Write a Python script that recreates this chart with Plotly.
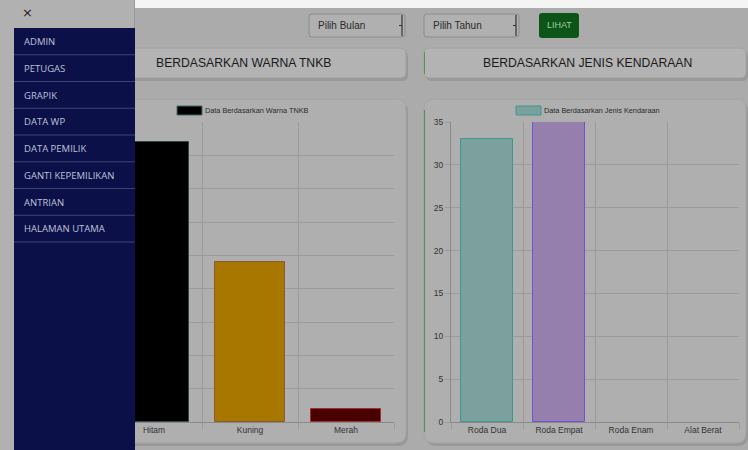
import plotly.graph_objects as go

W, H = 748, 450

# ---------------- data ----------------
warna_labels = ["Hitam", "Kuning", "Merah"]
warna_values = [42, 24, 2]
warna_fill = ["#000000", "#a87700", "#480000"]
warna_line = ["#2e4a48", "#8a5a30", "#9a3030"]

jenis_labels = ["Roda Dua", "Roda Empat", "Roda Enam", "Alat Berat"]
jenis_values = [33, 35, 0, 0]
jenis_fill = ["#7ca09d", "#9580ad", "rgba(0,0,0,0)", "rgba(0,0,0,0)"]
jenis_line = ["#3a9a90", "#7650cc", "rgba(0,0,0,0)", "rgba(0,0,0,0)"]

menu_items = ["ADMIN", "PETUGAS", "GRAPIK", "DATA WP", "DATA PEMILIK",
              "GANTI KEPEMILIKAN", "ANTRIAN", "HALAMAN UTAMA"]

# ---------------- helpers ----------------
def fx(x):
    return x / W

def fy(y):
    return 1 - y / H

def pt(x, y):
    return f"{fx(x):.5f},{fy(y):.5f}"

def rrect(x0, y0, x1, y1, r):
    return (f"M{pt(x0 + r, y0)} L{pt(x1 - r, y0)} Q{pt(x1, y0)} {pt(x1, y0 + r)} "
            f"L{pt(x1, y1 - r)} Q{pt(x1, y1)} {pt(x1 - r, y1)} L{pt(x0 + r, y1)} "
            f"Q{pt(x0, y1)} {pt(x0, y1 - r)} L{pt(x0, y0 + r)} Q{pt(x0, y0)} {pt(x0 + r, y0)} Z")

shapes = []
annotations = []

def rect(x0, y0, x1, y1, fill, line=None, lw=0, layer="below"):
    shapes.append(dict(type="rect", xref="paper", yref="paper",
                       x0=fx(x0), x1=fx(x1), y0=fy(y1), y1=fy(y0),
                       fillcolor=fill, line=dict(color=line or fill, width=lw), layer=layer))

def rounded(x0, y0, x1, y1, r, fill, line=None, lw=0, layer="below"):
    shapes.append(dict(type="path", xref="paper", yref="paper", path=rrect(x0, y0, x1, y1, r),
                       fillcolor=fill, line=dict(color=line or fill, width=lw), layer=layer))

def hline(x0, x1, y, color, w=1, layer="below"):
    shapes.append(dict(type="line", xref="paper", yref="paper", x0=fx(x0), x1=fx(x1),
                       y0=fy(y), y1=fy(y), line=dict(color=color, width=w), layer=layer))

def vline(x, y0, y1, color, w=1, layer="below"):
    shapes.append(dict(type="line", xref="paper", yref="paper", x0=fx(x), x1=fx(x),
                       y0=fy(y0), y1=fy(y1), line=dict(color=color, width=w), layer=layer))

def text(x, y, s, size, color, family="Liberation Sans, Arial, sans-serif", xanchor="left"):
    annotations.append(dict(xref="paper", yref="paper", x=fx(x), y=fy(y), text=s,
                            showarrow=False, xanchor=xanchor, yanchor="middle",
                            borderpad=0, borderwidth=0,
                            font=dict(size=size, color=color, family=family)))

PAGE = "#ababab"
CARD = "#afafaf"
SHADOW = "#989898"

# top white strip
rect(135, 0, W, 8, "#f4f4f4")

# select boxes
for (x0, x1, label) in [(309, 405, "Pilih Bulan"), (424, 519, "Pilih Tahun")]:
    rounded(x0, 14, x1, 37, 3, "#b0b0b0", "#8c8c8c", 1)
    text(x0 + 9, 25.5, label, 10, "#2a2a2a")
    vline(x1 - 3, 15, 36, "#333333", 1.2)
    hline(x1 - 6, x1 - 3, 25.5, "#333333", 1)

# LIHAT button
rounded(539, 13, 579, 38, 3, "#0c5418")
text(559, 25.5, "LIHAT", 9, "#9fd19f", xanchor="center")

# header cards
rounded(82, 51, 408, 81, 6, SHADOW)
rounded(80, 48, 406, 78, 6, "#b3b3b3", "#a2a2a2", 1)
text(243, 63, "BERDASARKAN WARNA TNKB", 12.2, "#1a1a1a", xanchor="center")

rounded(426, 51, 748, 81, 6, SHADOW)
rounded(424, 48, 746, 78, 6, "#b3b3b3", "#a2a2a2", 1)
vline(424.5, 52, 74, "#5d8f5d", 1)
text(587, 63, "BERDASARKAN JENIS KENDARAAN", 12.2, "#1a1a1a", xanchor="center")

# chart cards
rounded(82, 102, 408, 446, 10, SHADOW)
rounded(80, 99, 406, 443, 10, CARD, "#a4a4a4", 1)
rounded(426, 102, 748, 446, 10, SHADOW)
rounded(424, 99, 746, 443, 10, CARD, "#a4a4a4", 1)
vline(424.5, 110, 432, "#5d8f5d", 1.2)

# legends (chart.js style)
rect(177, 106, 202, 115, "#000000", "#3a6a66", 1)
text(205, 110.5, "Data Berdasarkan Warna TNKB", 7.3, "#2a2a2a")
rect(516, 106, 541, 115, "#7ca09d", "#3a9a90", 1)
text(544, 110.5, "Data Berdasarkan Jenis Kendaraan", 7.3, "#2a2a2a")

# sidebar (overlay)
rect(0, 0, 14, H, "#b1b1b1", layer="above")
rect(14, 0, 135, 28, "#b1b1b1", layer="above")
rect(14, 28, 135, H, "#0c1048", layer="above")
vline(134.5, 0, 28, "#9a9a9a", 1, layer="above")
text(28, 13, "×", 13, "#222222", family="DejaVu Sans", xanchor="center")
for i, item in enumerate(menu_items):
    ytop = 28 + i * 26.75
    text(24, ytop + 13.5, item, 9.5, "#bfc2d8", family="Open Sans, sans-serif")
    hline(14, 135, ytop + 26.75, "#3d4275", 1, layer="above")

# ---------------- figure ----------------
fig = go.Figure()
fig.add_trace(go.Bar(x=warna_labels, y=warna_values, width=0.72,
                     marker=dict(color=warna_fill, line=dict(color=warna_line, width=1)),
                     xaxis="x", yaxis="y", showlegend=False, hoverinfo="skip"))
fig.add_trace(go.Bar(x=jenis_labels, y=jenis_values, width=0.72,
                     marker=dict(color=jenis_fill, line=dict(color=jenis_line, width=1)),
                     xaxis="x2", yaxis="y2", showlegend=False, hoverinfo="skip"))

GRID = "#9b9b9b"
AXL = "#8a8a8a"
tickfont = dict(size=8.5, color="#333333", family="Liberation Sans, Arial, sans-serif")

ydom = [fy(422), fy(122)]
common_x = dict(type="category", tickson="boundaries", ticks="outside", ticklen=6,
                tickcolor=GRID, showgrid=True, gridcolor=GRID, gridwidth=1,
                showline=True, linecolor=AXL, linewidth=1, tickfont=tickfont,
                fixedrange=True, zeroline=False, automargin=False)
common_y = dict(ticks="outside", ticklen=5, tickcolor=GRID, showgrid=True, gridcolor=GRID,
                gridwidth=1, showline=True, linecolor=AXL, linewidth=1, tickfont=tickfont,
                zeroline=False, fixedrange=True, domain=ydom, dtick=5, automargin=False)

fig.update_layout(
    width=W, height=H,
    margin=dict(l=0, r=0, t=0, b=0, pad=0, autoexpand=False),
    paper_bgcolor=PAGE, plot_bgcolor="rgba(0,0,0,0)",
    bargap=0,
    xaxis=dict(common_x, domain=[fx(106), fx(394)], anchor="y"),
    # the left chart's y tick labels sit behind the sidebar in the reference
    yaxis=dict(common_y, range=[0, 45], anchor="x", showticklabels=False),
    xaxis2=dict(common_x, domain=[fx(451), fx(739)], anchor="y2"),
    yaxis2=dict(common_y, range=[0, 35], anchor="x2"),
    shapes=shapes,
    annotations=annotations,
    showlegend=False,
)

fig.write_html("out.html", post_script="document.body.style.margin='0';")
